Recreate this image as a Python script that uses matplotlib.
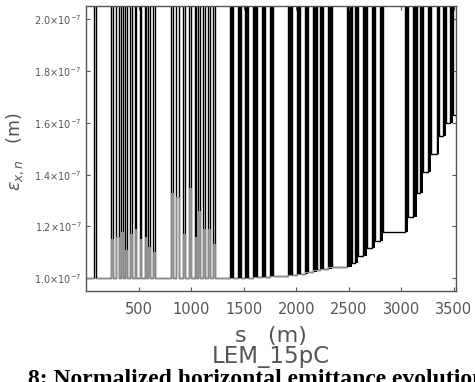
import numpy as np
import matplotlib
matplotlib.use("Agg")
import matplotlib.pyplot as plt

# bars: s where the curve goes up, s where it comes down (m)
bar_up = [74, 240, 288, 335, 373, 414, 462, 510, 557, 589, 640,
          811, 859, 922, 979, 1033, 1065, 1112, 1160, 1208,
          1367, 1446, 1510, 1586, 1671, 1748,
          1919, 2005, 2081, 2157, 2224, 2300,
          2481, 2557, 2633, 2719, 2795,
          3033, 3110, 3176, 3252, 3338, 3395, 3462]
bar_down = [95, 255, 310, 350, 389, 436, 478, 525, 573, 605, 660,
            827, 881, 944, 1002, 1049, 1088, 1129, 1183, 1224,
            1398, 1478, 1541, 1624, 1700, 1776,
            1957, 2033, 2110, 2195, 2252, 2338,
            2529, 2586, 2671, 2748, 2824,
            3062, 3148, 3205, 3281, 3357, 3424, 3491]
# emittance level after each bar (1e-7 m)
level_after = [1.0, 1.0, 1.0, 1.0, 1.0, 1.0, 1.0, 1.0, 1.0, 1.0, 1.0,
               1.0, 1.0, 1.0, 1.0, 1.0, 1.0, 1.0, 1.0, 1.0,
               1.0, 1.0, 1.002, 1.004, 1.006, 1.008,
               1.012, 1.016, 1.022, 1.03, 1.036, 1.044,
               1.057, 1.085, 1.117, 1.144, 1.18,
               1.237, 1.33, 1.41, 1.48, 1.55, 1.60, 1.63]
# peak of the black curve (off the top of the plot)
black_peak = 4.0
# grey curve peaks, only in the first two groups (1e-7 m)
grey_peak = [1.0, 1.15, 1.16, 1.18, 1.11, 1.17, 1.19, 1.15, 1.16, 1.12, 1.10,
             1.33, 1.315, 1.17, 1.35, 1.16, 1.26, 1.19, 1.19, 1.13]
grey_end = 2481
s_end = 3520
eps0 = 1.0

xticks = [500, 1000, 1500, 2000, 2500, 3000, 3500]
yticks = [1.0, 1.2, 1.4, 1.6, 1.8, 2.0]


def steps(ups, downs, peaks, levels, last):
    s, e = [0], [eps0]
    prev = eps0
    for a, b, p, lv in zip(ups, downs, peaks, levels):
        s += [a, a, b, b]
        e += [prev, p, p, lv]
        prev = lv
    s.append(last)
    e.append(prev)
    return np.array(s), np.array(e) * 1e-7


n = len(bar_up)
ng = len(grey_peak)
nc = sum(1 for a in bar_up if a < grey_end)
level_before = [eps0] + level_after[:-1]
widths = [b - a for a, b in zip(bar_up, bar_down)]

sb, eb = steps(bar_up, bar_down, [black_peak] * n, level_after, s_end)
gp = grey_peak + level_after[ng:nc]
sg, eg = steps(bar_up[:nc], bar_down[:nc], gp, level_after[:nc], grey_end)

fig = plt.figure(figsize=(4.75, 3.82), dpi=100)
ax = fig.add_axes([86 / 475, 1 - 291 / 382, 370 / 475, 285 / 382])

# the wide bars after the first two groups are solid black
ax.bar(bar_up[ng:], [(black_peak - lb) * 1e-7 for lb in level_before[ng:]],
       bottom=[lb * 1e-7 for lb in level_before[ng:]], width=widths[ng:],
       align="edge", color="black", linewidth=0)
ax.plot(sb, eb, color="black", lw=1.0)
ax.plot(sg, eg, color="#8c8c8c", lw=0.8)

ax.set_xlim(0, s_end)
ax.set_ylim(0.95e-7, 2.052e-7)
ax.set_xticks(xticks)
ax.set_yticks([v * 1e-7 for v in yticks])
ax.set_xticklabels([str(t) for t in xticks], fontsize=10.5, color="#555555")
ax.set_yticklabels([r"$%.1f{\times}10^{-7}$" % v for v in yticks],
                   fontsize=7, color="#555555")
ax.tick_params(direction="in", length=3, width=0.8, color="#555555",
               top=True, right=True)
ax.tick_params(axis="x", pad=8)
ax.tick_params(axis="y", pad=3)
for sp in ax.spines.values():
    sp.set_color("#555555")
    sp.set_linewidth(1.0)

fig.text(15 / 475, 1 - 152 / 382, r"$\varepsilon_{x,n}$   (m)", rotation=90,
         ha="center", va="center", fontsize=12.5, color="#555555")
fig.text(271 / 475, 1 - 336 / 382, "s   (m)", ha="center", va="center",
         fontsize=16, color="#555555")
fig.text(271 / 475, 1 - 357 / 382, "LEM_15pC", ha="center", va="center",
         fontsize=16.5, color="#555555")
fig.text(28 / 475, -3 / 382, "8: Normalized horizontal emittance evolution",
         ha="left", va="baseline", fontsize=17, family="Liberation Serif",
         weight="bold", color="black")

fig.savefig("out.png", dpi=100)
